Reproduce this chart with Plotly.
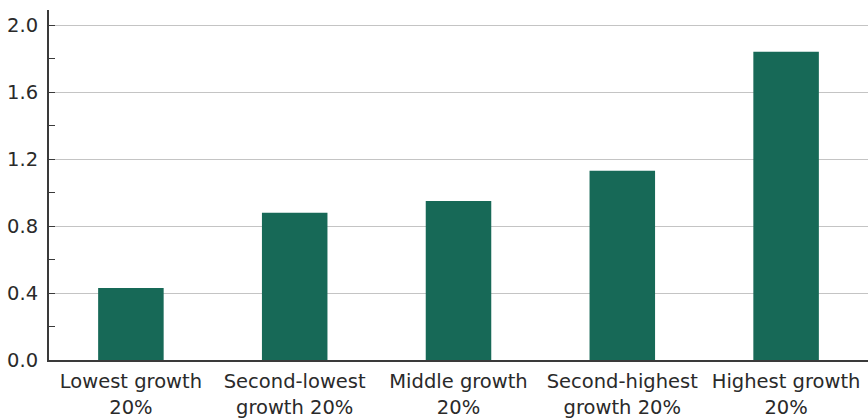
import plotly.graph_objects as go

categories = [
    "Lowest growth<br>20%",
    "Second-lowest<br>growth 20%",
    "Middle growth<br>20%",
    "Second-highest<br>growth 20%",
    "Highest growth<br>20%",
]
values = [0.43, 0.88, 0.95, 1.13, 1.84]
y_ticks = [0.0, 0.4, 0.8, 1.2, 1.6, 2.0]
y_tick_labels = ["0.0", "0.4", "0.8", "1.2", "1.6", "2.0"]

fig = go.Figure(
    go.Bar(
        x=categories,
        y=values,
        width=0.4,
        marker=dict(color="#176957", line=dict(width=0)),
    )
)

fig.update_layout(
    width=868,
    height=420,
    margin=dict(l=49, r=0, t=10, b=60),
    plot_bgcolor="white",
    paper_bgcolor="white",
    font=dict(family="DejaVu Sans, sans-serif", size=19.5, color="#2a2a2a"),
    showlegend=False,
)

fig.update_yaxes(
    range=[0, 2.09],
    tickvals=y_ticks,
    ticktext=y_tick_labels,
    showgrid=True,
    gridcolor="#c4c4c4",
    gridwidth=1,
    showline=True,
    linecolor="#3a3a3a",
    linewidth=2,
    ticks="",
    ticklabelstandoff=5,
    zeroline=False,
    tickfont=dict(size=19.5),
    minor=dict(dtick=0.2, tick0=0, ticks="inside", ticklen=6, tickcolor="#3a3a3a", showgrid=False),
)

fig.update_xaxes(
    showline=True,
    linecolor="#3a3a3a",
    linewidth=2,
    ticks="",
    ticklabelstandoff=3,
    tickfont=dict(size=19.5),
)

fig.write_html("out.html")
